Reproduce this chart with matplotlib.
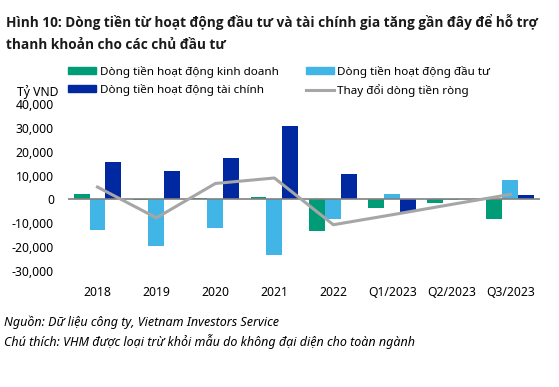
import numpy as np
import matplotlib.pyplot as plt
from matplotlib.lines import Line2D
from matplotlib.patches import Patch

plt.rcParams['font.family'] = ['Noto Sans', 'DejaVu Sans']

periods = ['2018', '2019', '2020', '2021', '2022', 'Q1/2023', 'Q2/2023', 'Q3/2023']
kinh_doanh = [2300, -200, 700, 1000, -13200, -3500, -1400, -8100]
dau_tu = [-13000, -19500, -11800, -23200, -8300, 2200, -300, 8100]
tai_chinh = [15700, 11900, 17400, 30800, 10600, -5300, 0, 1800]
rong = [5200, -7700, 6700, 9000, -10600, -6400, -2100, 2100]

c_green = '#009B77'
c_light = '#41B6E6'
c_dark = '#0028A0'
c_gray = '#A6A6A6'

fig = plt.figure(figsize=(5.59, 3.87), dpi=100)
ax = fig.add_axes([0.1216, 0.2997, 0.844, 0.4315])

x = np.arange(len(periods))
w = 0.27
ax.bar(x - w, kinh_doanh, w, color=c_green)
ax.bar(x, dau_tu, w, color=c_light)
ax.bar(x + w, tai_chinh, w, color=c_dark)
ax.axhline(0, color='#808080', lw=1.2, zorder=1)
ax.plot(x, rong, color=c_gray, lw=2.2, zorder=3)

ax.set_xlim(-0.5, 7.5)
ax.set_ylim(-30000, 40000)
ax.set_yticks(np.arange(-30000, 40001, 10000))
ax.yaxis.set_major_formatter(plt.FuncFormatter(lambda v, p: f'{int(v):,}'))
ax.set_xticks(x)
ax.set_xticklabels(periods)
ax.tick_params(length=0, labelsize=8.8, colors='#000000')
ax.tick_params(axis='x', pad=11)
ax.tick_params(axis='y', pad=10)
for s in ax.spines.values():
    s.set_visible(False)

title_font = ['Open Sans', 'DejaVu Sans']
fig.text(0.01, 0.943, 'Hình 10: Dòng tiền từ hoạt động đầu tư và tài chính gia tăng gần đây để hỗ trợ',
         fontsize=9.8, fontweight='bold', family=title_font, color='#1a1a1a', va='center')
fig.text(0.01, 0.885, 'thanh khoản cho các chủ đầu tư',
         fontsize=9.8, fontweight='bold', family=title_font, color='#1a1a1a', va='center')
fig.text(0.03, 0.762, 'Tỷ VND', fontsize=8.8, va='center')

handles = [Patch(color=c_green), Patch(color=c_dark), Patch(color=c_light),
           Line2D([], [], color=c_gray, lw=2.2)]
labels = ['Dòng tiền hoạt động kinh doanh', 'Dòng tiền hoạt động tài chính',
          'Dòng tiền hoạt động đầu tư', 'Thay đổi dòng tiền ròng']
fig.legend(handles, labels, ncol=2, loc='upper left', bbox_to_anchor=(0.112, 0.845),
           frameon=False, fontsize=8.4, handlelength=2.4, handleheight=0.6,
           handletextpad=0.3, columnspacing=2.3, labelspacing=0.5, borderpad=0)

fig.text(0.008, 0.168, 'Nguồn: Dữ liệu công ty, Vietnam Investors Service',
         fontsize=9, style='italic', va='center')
fig.text(0.008, 0.117, 'Chú thích: VHM được loại trừ khỏi mẫu do không đại diện cho toàn ngành',
         fontsize=9, style='italic', va='center')

fig.savefig('out.png', dpi=100)
